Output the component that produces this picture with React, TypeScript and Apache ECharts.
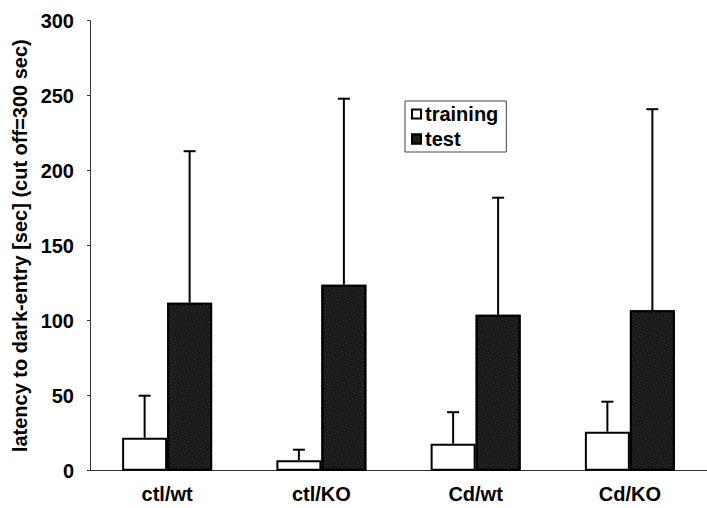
import React, { useEffect, useRef } from "react";
import * as echarts from "echarts";

const categories = ["ctl/wt", "ctl/KO", "Cd/wt", "Cd/KO"];
const trainingMean = [22, 7, 18, 26];
const trainingErr = [28, 7, 21, 20];
const testMean = [112, 124, 104, 107];
const testErr = [101, 124, 78, 134];
const yTicks = { min: 0, max: 300, interval: 50 };
const seriesNames = ["training", "test"];

const FONT = "'Liberation Sans', Arial, sans-serif";
const BAR_W = 45;

function errorSeries(name: string, means: number[], errs: number[], offset: number) {
  return {
    type: "custom",
    name: name + "-err",
    z: 5,
    silent: true,
    data: means.map((m, i) => [i, m, m + errs[i]]),
    encode: { x: 0, y: [1, 2] },
    renderItem: (params: any, api: any) => {
      const idx = api.value(0);
      const base = api.coord([idx, api.value(1)]);
      const top = api.coord([idx, api.value(2)]);
      const x = base[0] + offset;
      const cap = 6;
      return {
        type: "group",
        children: [
          {
            type: "line",
            shape: { x1: x, y1: base[1], x2: x, y2: top[1] },
            style: { stroke: "#000", lineWidth: 2 },
          },
          {
            type: "line",
            shape: { x1: x - cap, y1: top[1], x2: x + cap, y2: top[1] },
            style: { stroke: "#000", lineWidth: 2 },
          },
        ],
      };
    },
  };
}

export default function App() {
  const ref = useRef<HTMLDivElement>(null);
  useEffect(() => {
    if (!ref.current) return;
    const chart = echarts.init(ref.current, null, { renderer: "svg" });
    chart.setOption({
      animation: false,
      backgroundColor: "#fff",
      textStyle: { fontFamily: FONT },
      grid: { left: 90, top: 20.7, width: 624, bottom: 37.3 },
      legend: {
        data: seriesNames,
        icon: "rect",
        orient: "vertical",
        left: 405,
        top: 101,
        padding: [3, 8, 3, 6],
        borderColor: "#444",
        borderWidth: 1,
        itemWidth: 9,
        itemHeight: 9,
        itemGap: 5,
        textStyle: {
          fontFamily: FONT,
          fontWeight: "bold",
          fontSize: 20,
          lineHeight: 20,
          color: "#000",
          padding: [0, 0, 0, -1],
        },
      },
      xAxis: {
        type: "category",
        data: categories,
        axisLine: { lineStyle: { color: "#333", width: 1 } },
        axisTick: { inside: true, length: 4, lineStyle: { color: "#333" } },
        axisLabel: {
          margin: 13,
          color: "#000",
          fontWeight: "bold",
          fontSize: 20,
          fontFamily: FONT,
        },
      },
      yAxis: {
        type: "value",
        min: yTicks.min,
        max: yTicks.max,
        interval: yTicks.interval,
        name: "latency to dark-entry [sec] (cut off=300 sec)",
        nameLocation: "middle",
        nameGap: 58,
        nameTextStyle: {
          color: "#000",
          fontWeight: "bold",
          fontSize: 20,
          fontFamily: FONT,
        },
        axisLine: { show: true, lineStyle: { color: "#333", width: 1 } },
        axisTick: { show: true, length: 3, lineStyle: { color: "#333" } },
        splitLine: { show: false },
        axisLabel: {
          margin: 16,
          color: "#000",
          fontWeight: "bold",
          fontSize: 20,
          fontFamily: FONT,
        },
      },
      series: [
        {
          name: "training",
          type: "bar",
          data: trainingMean,
          barWidth: BAR_W,
          barGap: "0%",
          itemStyle: { color: "#fff", borderColor: "#000", borderWidth: 2 },
        },
        {
          name: "test",
          type: "bar",
          data: testMean,
          barWidth: BAR_W,
          barGap: "0%",
          itemStyle: {
            color: "#1a1a1a",
            borderColor: "#000",
            borderWidth: 2,
            decal: {
              symbol: "rect",
              symbolSize: 0.6,
              color: "rgba(255,255,255,0.5)",
              dashArrayX: [[1, 3], [0, 2, 1, 1]],
              dashArrayY: [1, 2],
              rotation: 0.3,
            },
          },
        },
        errorSeries("training", trainingMean, trainingErr, -BAR_W / 2),
        errorSeries("test", testMean, testErr, BAR_W / 2),
      ],
    });
    return () => chart.dispose();
  }, []);
  return <div ref={ref} style={{ width: 707, height: 508, position: "absolute", left: 0, top: 0 }} />;
}
